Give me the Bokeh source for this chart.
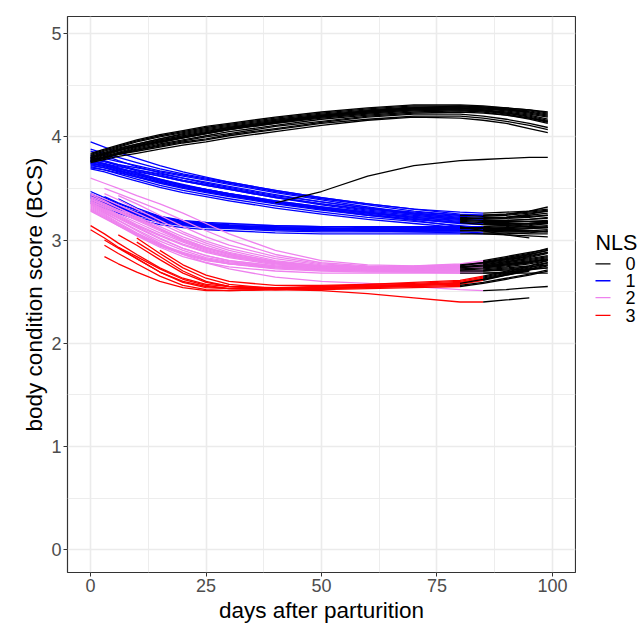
from bokeh.plotting import figure
from bokeh.layouts import row
from bokeh.models import Range1d, FixedTicker
from bokeh.core.properties import value
from bokeh.embed import file_html
from bokeh.resources import INLINE

# knot days shared by every cow trajectory
DAYS = [0, 3, 6, 10, 15, 20, 25, 30, 40, 50, 60, 70, 80, 85, 90, 95, 99]

NLS_LEVELS = ["0", "1", "2", "3"]
NLS_COLORS = ["#000000", "#0000FF", "#EE82EE", "#FF0000"]

X_TICKS = [0, 25, 50, 75, 100]
Y_TICKS = [0, 1, 2, 3, 4, 5]

# NLS 0 cows (black throughout)
BLACK_BCS = [
    [3.82, 3.86, 3.90, 3.95, 4.00, 4.04, 4.08, 4.11, 4.17, 4.22, 4.26, 4.29, 4.29, 4.28, 4.26, 4.23, 4.20],
    [3.80, 3.84, 3.88, 3.93, 3.98, 4.03, 4.07, 4.10, 4.16, 4.21, 4.25, 4.28, 4.29, 4.28, 4.27, 4.25, 4.22],
    [3.79, 3.83, 3.87, 3.92, 3.97, 4.01, 4.05, 4.09, 4.15, 4.20, 4.24, 4.27, 4.27, 4.26, 4.24, 4.21, 4.17],
    [3.81, 3.85, 3.89, 3.93, 3.98, 4.02, 4.06, 4.09, 4.15, 4.21, 4.25, 4.28, 4.28, 4.26, 4.23, 4.19, 4.15],
    [3.78, 3.82, 3.86, 3.91, 3.96, 4.00, 4.04, 4.08, 4.14, 4.19, 4.23, 4.26, 4.27, 4.27, 4.26, 4.24, 4.21],
    [3.77, 3.81, 3.85, 3.90, 3.95, 3.99, 4.03, 4.07, 4.13, 4.19, 4.23, 4.26, 4.26, 4.25, 4.22, 4.18, 4.14],
    [3.80, 3.84, 3.87, 3.91, 3.95, 3.99, 4.03, 4.07, 4.13, 4.18, 4.22, 4.25, 4.26, 4.25, 4.23, 4.20, 4.16],
    [3.76, 3.79, 3.83, 3.87, 3.91, 3.95, 3.98, 4.02, 4.08, 4.14, 4.19, 4.22, 4.22, 4.20, 4.17, 4.13, 4.09],
    [3.78, 3.80, 3.83, 3.86, 3.90, 3.94, 3.97, 4.01, 4.07, 4.13, 4.17, 4.20, 4.20, 4.18, 4.15, 4.11, 4.07],
    [3.75, 3.78, 3.81, 3.84, 3.88, 3.92, 3.95, 3.99, 4.05, 4.11, 4.16, 4.19, 4.18, 4.16, 4.13, 4.08, 4.04],
    [None, 3.80, 3.84, 3.89, 3.94, 3.99, 4.03, 4.07, 4.14, 4.20, 4.25, 4.28, 4.30, 4.29, 4.28, 4.26, 4.24],
    [3.83, 3.87, 3.91, 3.96, 4.01, 4.05, 4.09, 4.12, 4.18, 4.23, 4.27, 4.30, 4.30, 4.29, 4.27, 4.24, None],
    [3.79, 3.83, 3.87, 3.91, 3.96, 4.00, 4.04, 4.08, 4.14, 4.20, 4.24, 4.27, 4.28, 4.27, 4.25, 4.22, 4.19],
    [3.77, 3.80, 3.84, 3.88, 3.93, 3.97, 4.01, 4.05, 4.11, 4.17, 4.21, 4.24, 4.25, 4.24, 4.21, 4.17, 4.13],
    [3.84, 3.88, 3.92, 3.97, 4.02, 4.06, 4.10, 4.13, 4.19, 4.24, 4.28, 4.31, 4.31, 4.30, 4.28, 4.26, 4.23],
    [3.76, 3.80, 3.83, 3.87, 3.92, 3.96, 4.00, 4.03, 4.10, 4.15, 4.20, 4.23, 4.24, 4.23, 4.21, 4.18, 4.15],
]

# NLS 1 cows (blue, then NLS 0 from the switch day)
BLUE_BCS = [
    [3.95, 3.90, 3.85, 3.79, 3.72, 3.66, 3.61, 3.56, 3.48, 3.41, 3.35, 3.30, 3.27, 3.26, 3.27, 3.28, 3.30],
    [3.88, 3.84, 3.80, 3.75, 3.69, 3.64, 3.60, 3.56, 3.48, 3.41, 3.35, 3.30, 3.25, 3.24, 3.25, 3.27, 3.29],
    [3.82, 3.79, 3.76, 3.72, 3.67, 3.63, 3.59, 3.55, 3.47, 3.40, 3.34, 3.28, 3.24, 3.23, 3.24, 3.26, 3.28],
    [3.78, 3.76, 3.73, 3.70, 3.66, 3.62, 3.58, 3.54, 3.46, 3.39, 3.32, 3.26, 3.22, 3.21, 3.22, 3.24, 3.26],
    [3.76, 3.74, 3.71, 3.68, 3.64, 3.60, 3.56, 3.52, 3.44, 3.37, 3.31, 3.25, 3.21, 3.20, 3.21, 3.22, 3.24],
    [3.74, 3.72, 3.69, 3.66, 3.62, 3.57, 3.53, 3.49, 3.41, 3.34, 3.28, 3.24, 3.20, 3.19, 3.19, 3.20, 3.22],
    [3.80, 3.77, 3.73, 3.68, 3.63, 3.58, 3.54, 3.50, 3.42, 3.35, 3.30, 3.26, 3.23, 3.22, 3.22, 3.23, 3.24],
    [3.72, 3.70, 3.67, 3.63, 3.58, 3.53, 3.49, 3.45, 3.38, 3.32, 3.27, 3.22, 3.18, 3.17, 3.17, 3.18, 3.19],
    [3.70, 3.68, 3.65, 3.61, 3.56, 3.51, 3.47, 3.43, 3.36, 3.30, 3.25, 3.20, 3.16, 3.15, 3.15, 3.16, 3.17],
    [3.77, 3.74, 3.70, 3.65, 3.59, 3.54, 3.49, 3.45, 3.37, 3.31, 3.26, 3.22, 3.19, 3.18, 3.18, 3.18, 3.18],
    [3.73, 3.70, 3.66, 3.61, 3.55, 3.50, 3.46, 3.42, 3.35, 3.29, 3.24, 3.20, 3.17, 3.16, 3.16, 3.16, 3.16],
    [3.75, 3.72, 3.68, 3.63, 3.57, 3.52, 3.48, 3.44, 3.37, 3.31, 3.26, 3.21, 3.17, 3.15, 3.14, 3.13, 3.12],
    [3.71, 3.68, 3.64, 3.59, 3.53, 3.48, 3.44, 3.40, 3.33, 3.27, 3.22, 3.18, 3.14, 3.12, 3.10, 3.09, 3.08],
    [3.74, 3.71, 3.67, 3.62, 3.56, 3.51, 3.47, 3.43, 3.36, 3.30, 3.24, 3.19, 3.13, 3.09, 3.05, 3.02, None],
    [3.69, 3.66, 3.62, 3.57, 3.51, 3.46, 3.42, 3.38, 3.31, 3.25, 3.20, 3.16, 3.12, 3.11, 3.11, 3.12, 3.13],
    [3.86, 3.82, 3.77, 3.71, 3.65, 3.60, 3.55, 3.51, 3.43, 3.37, 3.31, 3.27, 3.24, 3.24, 3.25, 3.28, 3.32],
    [3.79, 3.76, 3.72, 3.67, 3.62, 3.57, 3.53, 3.49, 3.41, 3.35, 3.29, 3.25, 3.21, 3.21, 3.22, 3.25, 3.28],
    [3.76, 3.73, 3.69, 3.64, 3.58, 3.53, 3.49, 3.45, 3.38, 3.32, 3.27, 3.23, 3.20, 3.19, 3.19, 3.20, 3.21],
    [3.77, 3.74, 3.70, 3.65, 3.59, 3.53, 3.48, 3.44, 3.36, 3.47, 3.62, 3.72, 3.77, 3.78, 3.79, 3.80, 3.80],
    [3.45, 3.39, 3.33, 3.27, 3.21, 3.17, 3.15, 3.14, 3.12, 3.11, 3.10, 3.10, 3.10, 3.10, 3.10, 3.11, 3.12],
    [3.42, 3.37, 3.32, 3.26, 3.20, 3.16, 3.14, 3.13, 3.11, 3.10, 3.09, 3.09, 3.09, 3.09, 3.09, 3.09, 3.10],
    [3.40, 3.35, 3.30, 3.24, 3.18, 3.15, 3.13, 3.12, 3.10, 3.09, 3.09, 3.09, 3.09, 3.09, 3.08, 3.08, 3.08],
    [None, 3.42, 3.36, 3.29, 3.22, 3.18, 3.16, 3.14, 3.13, 3.12, 3.11, 3.11, 3.11, 3.11, 3.12, 3.13, 3.14],
    [3.38, 3.33, 3.28, 3.22, 3.17, 3.14, 3.12, 3.11, 3.09, 3.08, 3.08, 3.08, 3.08, 3.07, 3.07, 3.06, 3.06],
    [3.44, 3.38, 3.33, 3.27, 3.21, 3.17, 3.14, 3.13, 3.11, 3.10, 3.10, 3.10, 3.11, 3.11, 3.12, 3.14, 3.16],
    [None, None, 3.40, 3.31, 3.23, 3.18, 3.15, 3.14, 3.12, 3.11, 3.10, 3.10, 3.10, 3.10, 3.10, 3.11, 3.12],
    [3.41, 3.36, 3.31, 3.25, 3.20, 3.16, 3.15, 3.14, 3.12, 3.11, 3.11, 3.10, 3.10, 3.10, 3.09, 3.08, None],
    [3.47, 3.41, 3.35, 3.29, 3.23, 3.19, 3.17, 3.16, 3.14, 3.13, 3.13, 3.13, 3.13, 3.13, 3.14, 3.16, 3.18],
    [3.36, 3.31, 3.26, 3.20, 3.15, 3.12, 3.10, 3.09, 3.07, 3.06, 3.06, 3.06, 3.06, 3.06, 3.05, 3.04, 3.03],
    [None, 3.37, 3.31, 3.25, 3.19, 3.15, 3.13, 3.12, 3.10, 3.10, 3.09, 3.08, 3.07, 3.06, 3.06, 3.07, 3.09],
    [3.43, 3.38, 3.32, 3.26, 3.21, 3.18, 3.16, 3.15, 3.14, 3.13, 3.12, 3.12, 3.12, 3.12, 3.13, 3.15, 3.17],
]
BLUE_SWITCH = [85, 85, 80, 80, 85, 80, 85, 80, 85, 80, 85, 80, 85, 80, 85, 85, 80, 85,
               40, 85, 85, 80, 85, 85, 80, 85, 85, 85, 80, 85, 80]

# NLS 2 cows (violet, then NLS 0 from the switch day)
PINK_BCS = [
    [3.60, 3.55, 3.50, 3.43, 3.35, 3.26, 3.16, 3.06, 2.90, 2.80, 2.76, 2.75, 2.76, 2.78, 2.82, 2.86, 2.90],
    [None, 3.50, 3.45, 3.38, 3.29, 3.19, 3.09, 3.00, 2.86, 2.78, 2.75, 2.74, 2.75, 2.77, 2.80, 2.84, 2.88],
    [3.45, 3.40, 3.34, 3.26, 3.16, 3.06, 2.97, 2.90, 2.80, 2.75, 2.73, 2.73, 2.74, 2.76, 2.79, 2.83, 2.87],
    [3.42, 3.37, 3.31, 3.23, 3.13, 3.03, 2.95, 2.88, 2.79, 2.74, 2.72, 2.72, 2.74, 2.76, 2.79, 2.82, 2.85],
    [3.40, 3.34, 3.28, 3.20, 3.10, 3.00, 2.92, 2.86, 2.78, 2.74, 2.72, 2.72, 2.73, 2.75, 2.78, 2.81, 2.84],
    [3.38, 3.32, 3.25, 3.17, 3.07, 2.98, 2.90, 2.84, 2.77, 2.73, 2.71, 2.71, 2.72, 2.74, 2.77, 2.80, 2.83],
    [3.36, 3.30, 3.23, 3.14, 3.04, 2.95, 2.88, 2.83, 2.76, 2.73, 2.71, 2.71, 2.72, 2.73, 2.76, 2.79, 2.82],
    [3.35, 3.28, 3.21, 3.12, 3.01, 2.92, 2.85, 2.80, 2.75, 2.72, 2.71, 2.71, 2.72, 2.73, 2.75, 2.78, 2.81],
    [3.33, 3.26, 3.19, 3.10, 2.99, 2.90, 2.83, 2.79, 2.74, 2.72, 2.71, 2.71, 2.71, 2.72, 2.74, 2.77, 2.80],
    [3.32, 3.25, 3.17, 3.07, 2.96, 2.88, 2.82, 2.78, 2.74, 2.72, 2.71, 2.70, 2.70, 2.71, 2.73, 2.75, 2.78],
    [3.30, 3.23, 3.15, 3.05, 2.94, 2.86, 2.80, 2.77, 2.73, 2.71, 2.70, 2.70, 2.70, 2.70, 2.71, 2.72, 2.73],
    [None, 3.45, 3.39, 3.30, 3.19, 3.08, 2.99, 2.92, 2.82, 2.76, 2.74, 2.74, 2.76, 2.79, 2.83, 2.87, 2.92],
    [None, None, 3.43, 3.35, 3.24, 3.13, 3.03, 2.95, 2.84, 2.77, 2.74, 2.74, 2.75, 2.78, 2.82, 2.86, 2.90],
    [3.44, 3.38, 3.31, 3.22, 3.11, 3.01, 2.93, 2.87, 2.79, 2.75, 2.73, 2.73, 2.74, 2.75, 2.77, 2.79, 2.81],
    [3.37, 3.31, 3.24, 3.15, 3.05, 2.96, 2.89, 2.84, 2.77, 2.73, 2.72, 2.72, 2.73, 2.74, 2.76, 2.78, None],
    [3.31, 3.24, 3.16, 3.06, 2.95, 2.87, 2.81, 2.77, 2.73, 2.71, 2.70, 2.69, 2.68, 2.68, 2.68, 2.68, 2.68],
    [3.34, 3.27, 3.19, 3.09, 2.97, 2.86, 2.78, 2.72, 2.64, 2.60, 2.58, 2.55, 2.52, 2.51, 2.52, 2.54, 2.55],
    [3.39, 3.33, 3.27, 3.19, 3.09, 2.99, 2.91, 2.85, 2.78, 2.74, 2.73, 2.73, 2.75, 2.78, 2.81, 2.85, 2.88],
    [3.28, 3.21, 3.14, 3.05, 2.95, 2.87, 2.81, 2.77, 2.72, 2.70, 2.69, 2.69, 2.69, 2.70, 2.72, 2.74, 2.76],
    [3.41, 3.35, 3.29, 3.21, 3.11, 3.01, 2.93, 2.86, 2.78, 2.75, 2.74, 2.75, 2.77, 2.80, 2.84, 2.88, 2.91],
    [3.29, 3.22, 3.14, 3.04, 2.93, 2.84, 2.78, 2.74, 2.70, 2.68, 2.68, 2.68, 2.68, 2.68, 2.69, 2.71, 2.73],
    [3.36, 3.29, 3.22, 3.13, 3.02, 2.92, 2.85, 2.80, 2.75, 2.73, 2.73, 2.74, 2.76, 2.78, 2.81, 2.84, None],
]
PINK_SWITCH = [85, 85, 80, 85, 80, 85, 80, 85, 80, 85, 80, 85, 85, 80, 85, 80, 85, 80, 85, 85, 85, 80]

# NLS 3 cows (red, then NLS 0 from the switch day)
RED_BCS = [
    [3.14, 3.06, 2.97, 2.86, 2.73, 2.63, 2.57, 2.55, 2.54, 2.55, 2.56, 2.57, 2.58, 2.62, 2.67, 2.72, 2.76],
    [None, 2.95, 2.87, 2.77, 2.65, 2.56, 2.52, 2.51, 2.52, 2.53, 2.55, 2.56, 2.57, 2.61, 2.66, 2.71, 2.75],
    [None, None, 3.05, 2.95, 2.81, 2.68, 2.59, 2.55, 2.53, 2.54, 2.55, 2.57, 2.59, 2.63, 2.68, 2.73, 2.78],
    [None, None, None, 3.02, 2.87, 2.73, 2.63, 2.57, 2.53, 2.54, 2.55, 2.56, 2.58, 2.62, 2.67, 2.71, None],
    [None, 2.84, 2.77, 2.69, 2.60, 2.54, 2.51, 2.51, 2.52, 2.53, 2.54, 2.56, 2.58, 2.62, 2.66, 2.70, None],
    [None, None, 2.93, 2.84, 2.72, 2.62, 2.56, 2.53, 2.52, 2.53, 2.54, 2.55, 2.56, 2.59, 2.63, 2.67, 2.71],
    [None, None, None, 2.98, 2.84, 2.70, 2.60, 2.55, 2.52, 2.51, 2.48, 2.44, 2.40, 2.40, 2.42, 2.44, None],
    [None, 3.00, 2.92, 2.82, 2.69, 2.59, 2.54, 2.53, 2.53, 2.55, 2.57, 2.59, 2.61, 2.65, 2.70, 2.75, 2.80],
    [None, None, None, None, 2.90, 2.76, 2.66, 2.60, 2.56, 2.56, 2.57, 2.58, 2.60, 2.64, 2.69, 2.74, None],
    [3.10, 3.02, 2.93, 2.82, 2.69, 2.60, 2.55, 2.53, 2.52, 2.52, 2.53, 2.54, 2.55, 2.58, 2.62, 2.66, 2.70],
]
RED_SWITCH = [85, 85, 85, 80, 85, 80, 85, 85, 85, 80]

FONT = "Liberation Sans"

x0, x1 = -5.0, 105.0
y0, y1 = -0.22, 5.165

p = figure(width=576, height=627, output_backend="svg", toolbar_location=None,
           x_range=Range1d(x0, x1), y_range=Range1d(y0, y1),
           min_border_left=67, min_border_right=1, min_border_top=16, min_border_bottom=55,
           background_fill_color="white", border_fill_color="white")

p.outline_line_color = "#333333"
p.outline_line_width = 1.2

for ax in (p.xaxis[0], p.yaxis[0]):
    ax.axis_line_color = None
    ax.major_tick_line_color = "#333333"
    ax.major_tick_in = 0
    ax.major_tick_out = 4
    ax.minor_tick_line_color = None
    ax.major_label_text_font = FONT
    ax.major_label_text_font_size = "18px"
    ax.major_label_text_color = "#4D4D4D"
    ax.axis_label_text_font = FONT
    ax.axis_label_text_font_size = "22.5px"
    ax.axis_label_text_font_style = "normal"
    ax.axis_label_text_color = "#000000"
    ax.major_label_standoff = 2

p.xaxis[0].ticker = FixedTicker(ticks=X_TICKS, minor_ticks=[12.5, 37.5, 62.5, 87.5])
p.yaxis[0].ticker = FixedTicker(ticks=Y_TICKS, minor_ticks=[0.5, 1.5, 2.5, 3.5, 4.5])
p.xaxis[0].axis_label = "days after parturition"
p.yaxis[0].axis_label = "body condition score (BCS)"
p.xaxis[0].axis_label_standoff = 3
p.yaxis[0].axis_label_standoff = 1

for g in (p.xgrid[0], p.ygrid[0]):
    g.grid_line_color = "#EBEBEB"
    g.grid_line_width = 1.6
    g.minor_grid_line_color = "#EBEBEB"
    g.minor_grid_line_width = 0.9


def pieces(values, switch):
    pts = [(d, v) for d, v in zip(DAYS, values) if v is not None]
    if switch is None:
        return pts, []
    pre = [(d, v) for d, v in pts if d <= switch]
    post = [(d, v) for d, v in pts if d >= switch]
    return pre, post


segs = {k: ([], []) for k in NLS_LEVELS}


def add(level, pts):
    if len(pts) >= 2:
        segs[level][0].append([q[0] for q in pts])
        segs[level][1].append([q[1] for q in pts])


for vals in BLACK_BCS:
    add("0", pieces(vals, None)[0])
for level, table, switches in (("1", BLUE_BCS, BLUE_SWITCH),
                               ("2", PINK_BCS, PINK_SWITCH),
                               ("3", RED_BCS, RED_SWITCH)):
    for vals, sw in zip(table, switches):
        pre, post = pieces(vals, sw)
        add(level, pre)
        add("0", post)

for level in ["1", "2", "3", "0"]:
    color = NLS_COLORS[NLS_LEVELS.index(level)]
    xs, ys = segs[level]
    p.multi_line(xs, ys, line_color=color, line_width=1.3, line_join="round")

# legend panel: its own small figure whose data units are pixels from its top-left
lg = figure(width=65, height=627, output_backend="svg", toolbar_location=None,
            x_range=Range1d(0, 65), y_range=Range1d(627, 0),
            x_axis_location=None, y_axis_location=None,
            min_border=0, outline_line_color=None,
            background_fill_color="white", border_fill_color="white")
lg.xgrid.visible = False
lg.ygrid.visible = False

key_y = [279, 298, 317, 337]
lg.segment(x0=[19] * 4, y0=key_y, x1=[34] * 4, y1=key_y, line_color=NLS_COLORS, line_width=1.3)
lg.text(x=[49] * 4, y=key_y, text=NLS_LEVELS, text_font=value(FONT), text_font_size="18px",
        text_color="#000000", text_baseline="middle", text_align="left")
lg.text(x=[19], y=[255], text=["NLS"], text_font=value(FONT), text_font_size="21.5px",
        text_color="#000000", text_baseline="alphabetic", text_align="left")

layout = row(p, lg)
open("out.html", "w").write(file_html(layout, INLINE))
